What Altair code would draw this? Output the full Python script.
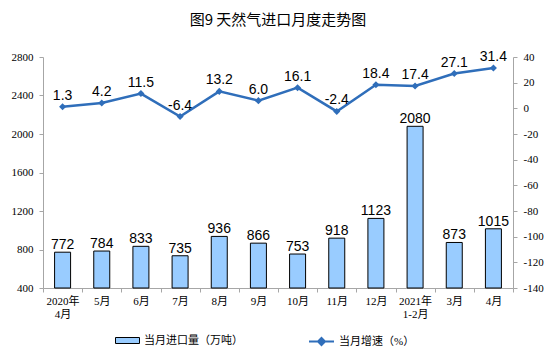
import altair as alt
import pandas as pd

months = ["2020年\n4月", "5月", "6月", "7月", "8月", "9月", "10月", "11月", "12月", "2021年\n1-2月", "3月", "4月"]
volume = [772, 784, 833, 735, 936, 866, 753, 918, 1123, 2080, 873, 1015]
growth = [1.3, 4.2, 11.5, -6.4, 13.2, 6.0, 16.1, -2.4, 18.4, 17.4, 27.1, 31.4]

bar_name = "当月进口量（万吨）"
line_name = "当月增速（%）"

df = pd.DataFrame({"month": months, "volume": volume, "growth": growth,
                   "glabel": [f"{g:.1f}" for g in growth],
                   "bar_s": bar_name, "line_s": line_name, "base": 400})

SERIF = "Liberation Serif, Noto Sans CJK SC"
SANS = "Liberation Sans, Arial"
BLUE = "#2F6EBA"
GREY = "#A6A6A6"

x = alt.X("month:N", sort=months, title=None,
          scale=alt.Scale(paddingInner=0, paddingOuter=0),
          axis=alt.Axis(labelAngle=0, tickBand="extent", labelExpr="split(datum.label, '\\n')",
                        labelPadding=3, labelLineHeight=13))

yl = alt.Y("volume:Q", title=None,
           scale=alt.Scale(domain=[400, 2800], nice=False, zero=False),
           axis=alt.Axis(values=list(range(400, 2801, 400)), orient="left", grid=False,
                         labelExpr="datum.value + ''", labelPadding=6))

yr = alt.Y("growth:Q", title=None,
           scale=alt.Scale(domain=[-140, 40], nice=False, zero=False),
           axis=alt.Axis(values=list(range(-140, 41, 20)), orient="right", grid=False,
                         labelExpr="datum.value + ''", labelPadding=6))

base = alt.Chart(df)

bars = base.mark_bar(size=16, stroke="black", strokeWidth=1).encode(
    x=x, y=yl, y2=alt.Y2("base:Q"),
    color=alt.Color("bar_s:N", scale=alt.Scale(range=["#99CCFF"]),
                    legend=alt.Legend(title=None, orient="none", legendX=72, legendY=271,
                                      symbolType="M-1,-0.25H1V0.25H-1Z", symbolSize=576,
                                      symbolStrokeColor="black", symbolStrokeWidth=1,
                                      labelFont=SERIF, labelFontSize=11, labelColor="#000",
                                      labelOffset=4, padding=0)),
)

bar_text = base.mark_text(baseline="alphabetic", dy=-3, font=SANS, fontSize=14, color="#000").encode(
    x=x, y=yl, text=alt.Text("volume:Q"))

line = base.mark_line(strokeWidth=2.5).encode(
    x=x, y=yr,
    stroke=alt.Stroke("line_s:N", scale=alt.Scale(range=[BLUE]),
                      legend=alt.Legend(title=None, orient="none", legendX=265, legendY=271,
                                        symbolType="M-1,0H1M0,-0.28L0.28,0L0,0.28L-0.28,0Z",
                                        symbolSize=625, symbolStrokeWidth=2,
                                        symbolFillColor=BLUE,
                                        labelFont=SERIF, labelFontSize=11, labelColor="#000",
                                        labelOffset=4, padding=0)),
)

pts = base.mark_point(shape="diamond", filled=True, size=50, color=BLUE, opacity=1).encode(x=x, y=yr)

line_text = base.mark_text(baseline="alphabetic", dy=-7, font=SANS, fontSize=14, color="#000").encode(
    x=x, y=yr, text=alt.Text("glabel:N"))

left = alt.layer(bars, bar_text)
right = alt.layer(line, pts, line_text)

chart = alt.layer(left, right).resolve_scale(y="independent").properties(
    width=470, height=231,
    autosize=alt.AutoSizeParams(type="none"),
    padding={"left": 43, "top": 57, "right": 41, "bottom": 64},
    title=alt.TitleParams("图9 天然气进口月度走势图", font="Noto Sans CJK SC", fontSize=15,
                          fontWeight="normal", color="#000", anchor="middle", offset=22),
).configure_view(stroke=None).configure_axis(
    labelOverlap=False, labelFlush=False, labelFont=SERIF, labelFontSize=11, labelColor="#000",
    domainColor=GREY, tickColor=GREY, tickSize=4, labelAngle=0)

chart.save("out.html", embed_options={"renderer": "svg", "actions": False})
